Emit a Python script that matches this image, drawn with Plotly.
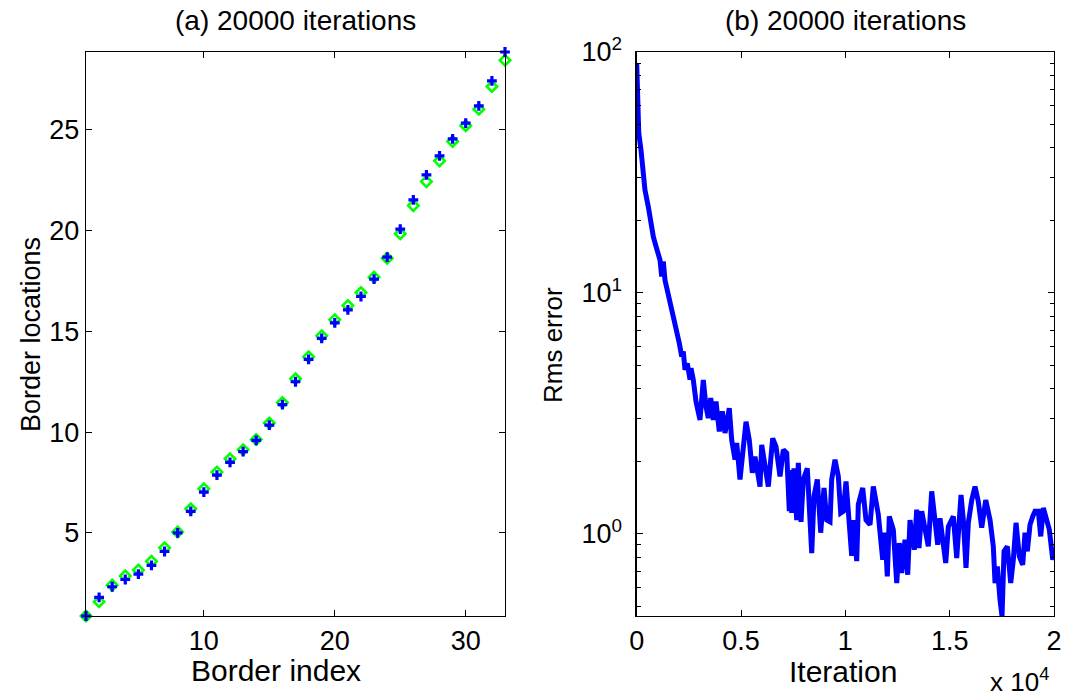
import plotly.graph_objects as go

# ---------------- data ----------------
border_index = list(range(1, 34))

# blue "+" markers
border_est = [0.88, 1.80, 2.33, 2.69, 2.96, 3.39, 4.08, 5.00, 6.07, 7.03,
              7.87, 8.50, 9.03, 9.59, 10.35, 11.37, 12.50, 13.61, 14.65, 15.42,
              16.07, 16.73, 17.59, 18.68, 20.07, 21.52, 22.76, 23.71, 24.55, 25.33,
              26.19, 27.43, 28.86]

# green diamond markers
border_true = [0.88, 1.59, 2.41, 2.87, 3.16, 3.59, 4.26, 5.05, 6.20, 7.19,
               8.02, 8.68, 9.13, 9.64, 10.45, 11.47, 12.65, 13.74, 14.78, 15.58,
               16.28, 16.93, 17.69, 18.63, 19.84, 21.24, 22.43, 23.46, 24.42, 25.20,
               26.02, 27.15, 28.45]

iteration = [0, 20, 50, 100, 206, 316, 398, 556, 671, 796,
             925, 1035, 1117, 1198, 1275, 1356, 1467, 1596, 1677, 1788,
             1917, 2042, 2157, 2234, 2315, 2425, 2555, 2603, 2713, 2842,
             3034, 3192, 3322, 3432, 3547, 3671, 3801, 3959, 4103, 4232,
             4438, 4553, 4711, 4793, 4951, 5081, 5239, 5397, 5541, 5670,
             5910, 5991, 6149, 6308, 6518, 6677, 6869, 7027, 7190, 7314,
             7372, 7429, 7539, 7669, 7745, 7875, 7985, 8177, 8388, 8498,
             8656, 8819, 8977, 9107, 9265, 9346, 9504, 9663, 9778, 9902,
             10032, 10142, 10305, 10382, 10545, 10621, 10832, 10990, 11182, 11340,
             11580, 11791, 11901, 12011, 12107, 12299, 12462, 12586, 12701, 12860,
             12989, 13099, 13305, 13420, 13530, 13660, 13818, 13976, 14139, 14297,
             14427, 14537, 14695, 14810, 14935, 15175, 15337, 15544, 15654, 15783,
             15894, 16057, 16215, 16373, 16536, 16728, 16934, 17092, 17174, 17284,
             17413, 17509, 17605, 17763, 17926, 18051, 18180, 18338, 18501, 18611,
             18722, 18851, 18980, 19091, 19249, 19364, 19489, 19652, 19776, 19940,
             20000]

rms_error = [90.0, 74.0, 57.4, 46.0, 39.2, 30.4, 26.7, 22.8, 19.5, 17.1,
             15.6, 14.2, 13.7, 11.7, 13.5, 11.3, 10.3, 9.35, 8.77, 7.97,
             7.02, 6.18, 5.44, 5.71, 4.79, 5.10, 4.36, 4.87, 4.35, 3.54,
             2.97, 4.35, 3.37, 3.02, 3.66, 2.97, 3.54, 2.66, 3.22, 2.62,
             3.32, 2.45, 2.03, 2.38, 1.68, 2.23, 2.92, 2.45, 1.79, 2.09,
             1.57, 2.34, 1.90, 1.57, 2.49, 2.30, 1.73, 2.23, 2.16, 1.24,
             1.84, 1.22, 1.87, 1.14, 1.97, 1.12, 1.68, 1.87, 0.83, 1.43,
             1.68, 1.01, 1.55, 1.14, 1.12, 1.68, 2.03, 1.73, 1.22, 1.24,
             1.65, 1.26, 0.81, 1.14, 0.77, 1.32, 1.55, 1.14, 1.09, 1.57,
             1.20, 0.78, 1.01, 0.665, 1.18, 1.04, 0.624, 0.915, 0.687, 0.944,
             0.676, 1.14, 0.858, 1.26, 0.872, 1.24, 1.04, 0.886, 1.50, 1.14,
             0.90, 1.16, 0.886, 0.756, 1.07, 1.18, 0.793, 1.45, 1.14, 0.721,
             1.11, 1.38, 1.57, 1.36, 1.06, 1.38, 1.14, 0.886, 0.624, 0.731,
             0.532, 0.454, 0.845, 0.886, 0.624, 0.78, 1.11, 0.805, 0.743, 1.01,
             0.845, 1.09, 1.18, 1.24, 1.24, 0.975, 1.28, 1.14, 1.04, 0.78,
             0.83]

left_xticks = [10, 20, 30]
left_yticks = [5, 10, 15, 20, 25]
right_xticks = [0, 5000, 10000, 15000, 20000]
right_xlabels = ["0", "0.5", "1", "1.5", "2"]
right_yticks = [1, 10, 100]
right_ylabels = ["10<sup>0</sup>", "10<sup>1</sup>", "10<sup>2</sup>"]

# ---------------- figure ----------------
W, H = 1065, 700
FONT = "Liberation Sans, Arial, sans-serif"

fig = go.Figure()

fig.add_trace(go.Scatter(
    x=border_index, y=border_true, mode="markers", cliponaxis=False,
    marker=dict(symbol="diamond-open", size=8, color="#00ff00",
                line=dict(color="#00ff00", width=2.6)),
    xaxis="x", yaxis="y", showlegend=False))
fig.add_trace(go.Scatter(
    x=border_index, y=border_est, mode="markers", cliponaxis=False,
    marker=dict(symbol="cross-thin", size=7, color="#0000ff",
                line=dict(color="#0000ff", width=3.2)),
    xaxis="x", yaxis="y", showlegend=False))

fig.add_trace(go.Scatter(
    x=iteration, y=rms_error, mode="lines",
    line=dict(color="#0000ff", width=5),
    xaxis="x2", yaxis="y2", showlegend=False))

ax_common = dict(showline=True, linecolor="black", linewidth=1.3, mirror="ticks",
                 ticks="inside", ticklen=6, tickcolor="black", tickwidth=1,
                 showgrid=False, zeroline=False, automargin=False,
                 tickfont=dict(family=FONT, size=27, color="black"))

yd = [1 - 616 / H, 1 - 52 / H]
fig.update_layout(
    template="none",
    width=W, height=H,
    margin=dict(l=0, r=0, t=0, b=0, pad=0, autoexpand=False),
    paper_bgcolor="white", plot_bgcolor="white",
    font=dict(family=FONT, color="black"),
    xaxis=dict(domain=[86 / W, 505 / W], range=[1, 33], tickmode="array",
               tickvals=left_xticks, anchor="y", **ax_common),
    yaxis=dict(domain=yd, range=[0.88, 28.86], tickmode="array",
               tickvals=left_yticks, anchor="x", **ax_common),
    xaxis2=dict(domain=[636.7 / W, 1054 / W], range=[0, 20000], tickmode="array",
                tickvals=right_xticks, ticktext=right_xlabels, anchor="y2", **ax_common),
    yaxis2=dict(domain=yd, type="log", range=[-0.3415, 2], tickmode="array",
                tickvals=right_yticks, ticktext=right_ylabels, anchor="x2",
                ticklabelstandoff=8,
                minor=dict(ticks="inside", ticklen=4, tickcolor="black", dtick="D1",
                           showgrid=False),
                **ax_common),
)

def ann(text, x, y, size=27, angle=0, yanchor="middle"):
    fig.add_annotation(text=text, x=x / W, y=1 - y / H, xref="paper", yref="paper",
                       showarrow=False, textangle=angle, xanchor="center", yanchor=yanchor,
                       font=dict(family=FONT, size=size, color="black"))

ann("(a) 20000 iterations", 295.5, 20, size=28)
ann("(b) 20000 iterations", 845, 20, size=28)
ann("Border index", 276, 670, size=30)
ann("Iteration", 843, 671, size=30)
ann("Border locations", 31, 335, size=27, angle=-90)
ann("Rms error", 553, 345, size=26, angle=-90)
ann("x 10<sup>4</sup>", 1020, 699, size=26, yanchor="bottom")

fig.write_html("out.html",
               config={"displayModeBar": False, "staticPlot": True},
               post_script="document.body.style.margin='0px';"
                           "document.body.style.overflow='hidden';")
